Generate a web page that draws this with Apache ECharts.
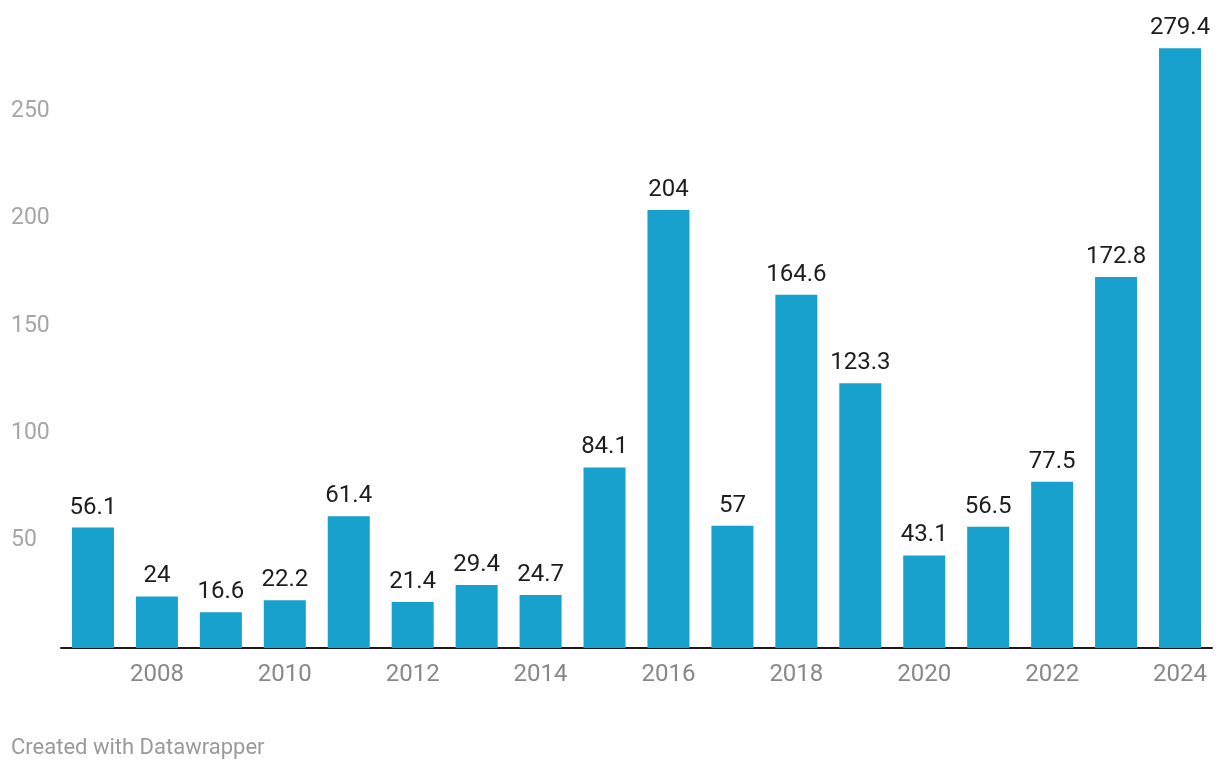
<!DOCTYPE html>
<html>
<head>
<meta charset="utf-8">
<script src="https://cdn.jsdelivr.net/npm/echarts@6/dist/echarts.min.js"></script>
<style>
html,body{margin:0;padding:0;background:#fff;}
#c{width:1220px;height:770px;}
</style>
</head>
<body>
<div id="c"></div>
<script>
const years = ['2007','2008','2009','2010','2011','2012','2013','2014','2015','2016','2017','2018','2019','2020','2021','2022','2023','2024'];
const values = [56.1, 24, 16.6, 22.2, 61.4, 21.4, 29.4, 24.7, 84.1, 204, 57, 164.6, 123.3, 43.1, 56.5, 77.5, 172.8, 279.4];
const yTicks = [0, 50, 100, 150, 200, 250, 300];

const chart = echarts.init(document.getElementById('c'));
chart.setOption({
  animation: false,
  backgroundColor: '#ffffff',
  textStyle: { fontFamily: 'Roboto' },
  grid: { left: 61, right: 8, top: 4, bottom: 122, containLabel: false },
  graphic: [{
    type: 'text', left: 11, top: 737,
    style: { text: 'Created with Datawrapper', fill: '#9a9a9a', font: '22px Roboto' }
  }],
  xAxis: {
    type: 'category',
    data: years,
    axisLine: { lineStyle: { color: '#1a1a1a', width: 2 } },
    axisTick: { show: false },
    axisLabel: {
      interval: function (i) { return i % 2 === 1; },
      color: '#888888', fontSize: 24, margin: 15, fontFamily: 'Roboto'
    }
  },
  yAxis: {
    type: 'value',
    min: yTicks[0], max: yTicks[yTicks.length - 1], interval: 50,
    splitLine: { show: false },
    axisLine: { show: false },
    axisTick: { show: false },
    axisLabel: {
      showMinLabel: false, showMaxLabel: false,
      align: 'left', margin: 50,
      padding: [4, 0, 0, 0],
      color: '#a6a6a6', fontSize: 23, fontFamily: 'Roboto'
    }
  },
  series: [{
    type: 'bar',
    data: values,
    barWidth: '65.7%',
    itemStyle: { color: '#18a1cd' },
    label: {
      show: true, position: 'top', distance: 8,
      color: '#1d1d1d', fontSize: 24, fontFamily: 'Roboto'
    }
  }]
});
</script>
</body>
</html>
